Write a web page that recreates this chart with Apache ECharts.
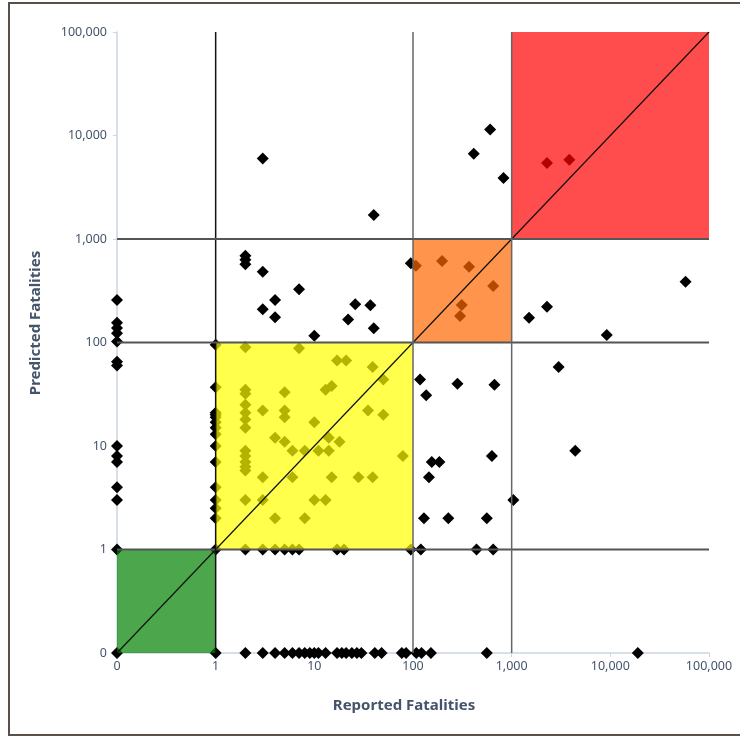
<!DOCTYPE html>
<html style="height: 100%">
<head>
	<meta charset="utf-8">
</head>
<body style="height: 100%; margin: 0; background: #fff">
<div id="container" style="width: 740px; height: 737px"></div>
<script type="text/javascript" src="https://cdn.jsdelivr.net/npm/echarts@6/dist/echarts.min.js"></script>
<script type="text/javascript">
    // tick values and their labels (0 sits one decade below 1)
    var tickValues = [0, 1, 10, 100, 1000, 10000, 100000];
    var tickLabels = ['0', '1', '10', '100', '1,000', '10,000', '100,000'];

    // reported / predicted fatalities (parallel lists)
    // reported = 0 column
    var reported0 = [0, 0, 0, 0, 0, 0, 0, 0, 0, 0, 0, 0, 0, 0];
    var predicted0 = [0, 1, 3, 4, 7, 8, 10, 60, 65, 102, 123, 138, 155, 257];
    // reported = 1 column
    var reported1 = [1, 1, 1, 1, 1, 1, 1, 1, 1, 1, 1, 1, 1, 1, 1, 1];
    var predicted1 = [0, 1, 2, 2.5, 3, 4, 7, 10, 13, 15, 17, 19, 20, 21, 37, 95];
    // predicted = 0 row
    var reportedZeroRow = [2, 3, 4, 5, 6, 7, 8, 9, 10, 11, 13, 17, 19, 21, 24, 27, 30, 41, 48, 77, 85, 108, 122, 152, 560, 19000];
    // predicted = 1 row
    var reportedOneRow = [2, 3, 4, 5, 6, 7, 17, 20, 95, 120, 440, 650];
    // everything else
    var reportedRest = [2, 7, 17, 21, 39, 50, 13, 15, 2, 2, 5, 2, 3, 5, 5, 2, 2, 2, 10, 35, 50, 4, 5, 14, 18, 6, 8, 11, 14, 79,
        3, 6, 15, 28, 39, 2, 3, 10, 13, 4, 8, 2, 2, 2, 2, 2,
        3, 40, 2, 2, 2, 3, 7, 4, 3, 4, 10, 26, 37, 22, 40, 95,
        107, 197, 370, 650, 312, 300,
        605, 413, 826, 2280, 3840,
        57900, 2280, 1500, 9200, 2990, 118, 282, 669, 136, 4410, 155, 185, 630, 145, 1040, 129, 228, 560];
    var predictedRest = [90, 88, 67, 67, 58, 44, 35, 38, 35, 32, 33, 25, 22, 22, 19, 21, 18, 15, 17, 22, 20, 12, 11, 12, 11, 9, 9, 9, 9, 8,
        5, 5, 5, 5, 5, 3, 3, 3, 3, 2, 2, 9, 8, 7, 6.3, 5.8,
        6000, 1710, 690, 630, 570, 483, 327, 258, 210, 175, 116, 234, 229, 167, 137, 583,
        553, 614, 540, 351, 230, 180,
        11400, 6660, 3880, 5420, 5830,
        387, 222, 173, 118, 58, 44, 40, 39, 31, 9, 7, 7, 8, 5, 3, 2, 2, 2];

    // shaded zones [from, to] on both axes
    var zoneBounds = [[0, 1], [1, 100], [100, 1000], [1000, 100000]];
    // reference grid lines
    var refLines = [1, 100, 1000];

    function pos(v) {
        return v <= 0 ? 0 : Math.log10(v) + 1;
    }

    var points = [];
    function addPoints(xs, ys) {
        for (var i = 0; i < xs.length; i++) {
            points.push([pos(xs[i]), pos(ys[i])]);
        }
    }
    addPoints(reported0, predicted0);
    addPoints(reported1, predicted1);
    addPoints(reportedZeroRow, reportedZeroRow.map(function () { return 0; }));
    addPoints(reportedOneRow, reportedOneRow.map(function () { return 1; }));
    addPoints(reportedRest, predictedRest);

    var zoneColors = ['#008000', '#ffff00', '#ff6600', '#ff0000'];
    var axisMax = pos(tickValues[tickValues.length - 1]);

    var dom = document.getElementById("container");
    var myChart = echarts.init(dom);
    var labelColor = '#44546a';
    var titleFont = 'bold 15px "Noto Sans"';

    function makeAxis(margin) {
        return {
            type: 'value',
            min: 0,
            max: axisMax,
            interval: 1,
            splitLine: {show: false},
            axisLine: {lineStyle: {color: '#cdd5e3', width: 1.5}},
            axisTick: {show: true, length: 4, lineStyle: {color: '#cdd5e3'}},
            axisLabel: {
                color: labelColor,
                fontFamily: 'Noto Sans',
                fontSize: 12.5,
                margin: margin,
                formatter: function (v) { return tickLabels[Math.round(v)]; }
            }
        };
    }

    var option = {
        animation: false,
        backgroundColor: '#fff',
        grid: {left: 117, right: 31, top: 32, bottom: 84},
        xAxis: makeAxis(7),
        yAxis: makeAxis(10),
        graphic: [{
            type: 'rect',
            shape: {x: 9, y: 3, width: 740, height: 732},
            style: {fill: 'none', stroke: '#5b4f49', lineWidth: 2}
        }, {
            type: 'text',
            x: 404,
            y: 706,
            style: {text: 'Reported Fatalities', font: titleFont, fill: labelColor, align: 'center', verticalAlign: 'middle'}
        }, {
            type: 'text',
            x: 36,
            y: 323,
            rotation: Math.PI / 2,
            style: {text: 'Predicted Fatalities', font: titleFont, fill: labelColor, align: 'center', verticalAlign: 'middle'}
        }],
        series: [{
            type: 'scatter',
            z: 2,
            symbol: 'diamond',
            symbolSize: 12,
            itemStyle: {color: '#000', opacity: 1},
            data: points
        }, {
            type: 'custom',
            z: 3,
            data: zoneBounds.map(function (b) { return [pos(b[0]), pos(b[1])]; }),
            renderItem: function (params, api) {
                var a = api.coord([api.value(0), api.value(0)]);
                var b = api.coord([api.value(1), api.value(1)]);
                return {
                    type: 'rect',
                    shape: {x: a[0], y: b[1], width: b[0] - a[0], height: a[1] - b[1]},
                    style: {fill: zoneColors[params.dataIndex], opacity: 0.7}
                };
            }
        }, {
            type: 'line',
            z: 4,
            data: [[0, 0], [axisMax, axisMax]],
            symbol: 'none',
            lineStyle: {color: '#111', width: 1.2}
        }, {
            type: 'custom',
            z: 5,
            data: refLines.map(function (v) { return [pos(v)]; }),
            renderItem: function (params, api) {
                var v = api.value(0);
                var h0 = api.coord([0, v]), h1 = api.coord([axisMax, v]);
                var v0 = api.coord([v, 0]), v1 = api.coord([v, axisMax]);
                return {
                    type: 'group',
                    children: [{
                        type: 'line',
                        shape: {x1: h0[0], y1: h0[1], x2: h1[0], y2: h1[1]},
                        style: {stroke: '#555', lineWidth: 1.8}
                    }, {
                        type: 'line',
                        shape: {x1: v0[0], y1: v0[1], x2: v1[0], y2: v1[1]},
                        style: {stroke: v < 3 ? '#111' : '#666', lineWidth: 1.5}
                    }]
                };
            }
        }]
    };

    myChart.setOption(option);
</script>
</body>
</html>
